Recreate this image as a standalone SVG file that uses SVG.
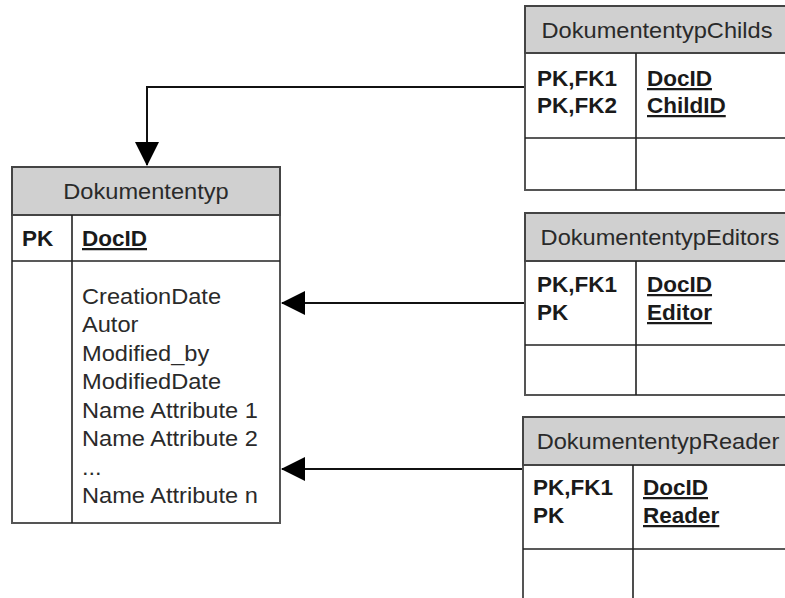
<svg xmlns="http://www.w3.org/2000/svg" width="785" height="598" viewBox="0 0 785 598">
<style>
  text { font-family: "Liberation Sans", Arial, sans-serif; fill: #1a1a1a; }
  .h { font-size: 22.5px; text-anchor: middle; fill: #2a2a2a; transform-box: fill-box; transform-origin: center; transform: scaleX(1.05); }
  .r { font-size: 22.5px; fill: #2a2a2a; transform-box: fill-box; transform-origin: left; transform: scaleX(1.05); }
  .b { font-size: 22.5px; font-weight: bold; }
  .u { font-size: 22.5px; font-weight: bold; text-decoration: underline; }
  .box { fill: #ffffff; stroke: #555555; stroke-width: 2; }
  .hdr { fill: #d0d0d0; stroke: #444444; stroke-width: 2; }
  .ln { stroke: #222222; stroke-width: 1.6; fill: none; }
  .con { stroke: #111111; stroke-width: 2; fill: none; }
</style>
<defs>
  <marker id="arr" markerUnits="userSpaceOnUse" markerWidth="24" markerHeight="24" refX="23" refY="12" orient="auto">
    <path d="M0,0 L24,12 L0,24 z" fill="#000000"/>
  </marker>
</defs>

<g id="connectors">
  <path class="con" d="M525,87 H147 V165" marker-end="url(#arr)"/>
  <path class="con" d="M525,303 H282" marker-end="url(#arr)"/>
  <path class="con" d="M523,469 H282" marker-end="url(#arr)"/>
</g>

<g id="Dokumententyp">
  <rect class="box" x="12" y="167" width="268" height="356"/>
  <rect class="hdr" x="12" y="167" width="268" height="48"/>
  <line class="ln" x1="12" y1="261" x2="280" y2="261"/>
  <line class="ln" x1="72" y1="215" x2="72" y2="523"/>
  <text class="h" x="146" y="199">Dokumententyp</text>
  <text class="b" x="22" y="246">PK</text>
  <text class="u" x="82" y="246">DocID</text>
  <text class="r" x="82" y="304">CreationDate</text>
  <text class="r" x="82" y="332.5">Autor</text>
  <text class="r" x="82" y="361">Modified_by</text>
  <text class="r" x="82" y="389.5">ModifiedDate</text>
  <text class="r" x="82" y="418">Name Attribute 1</text>
  <text class="r" x="82" y="446.5">Name Attribute 2</text>
  <text class="r" x="82" y="475">...</text>
  <text class="r" x="82" y="503.5">Name Attribute n</text>
</g>

<g id="DokumententypChilds">
  <rect class="box" x="525" y="6" width="270" height="184"/>
  <rect class="hdr" x="525" y="6" width="270" height="47"/>
  <line class="ln" x1="525" y1="138" x2="795" y2="138"/>
  <line class="ln" x1="636" y1="53" x2="636" y2="190"/>
  <text class="h" x="657" y="38">DokumententypChilds</text>
  <text class="b" x="537" y="86">PK,FK1</text>
  <text class="b" x="537" y="113">PK,FK2</text>
  <text class="u" x="647" y="86">DocID</text>
  <text class="u" x="647" y="113">ChildID</text>
</g>

<g id="DokumententypEditors">
  <rect class="box" x="525" y="213" width="270" height="182"/>
  <rect class="hdr" x="525" y="213" width="270" height="48"/>
  <line class="ln" x1="525" y1="345" x2="795" y2="345"/>
  <line class="ln" x1="636" y1="261" x2="636" y2="395"/>
  <text class="h" x="660" y="245">DokumententypEditors</text>
  <text class="b" x="537" y="292">PK,FK1</text>
  <text class="b" x="537" y="320">PK</text>
  <text class="u" x="647" y="292">DocID</text>
  <text class="u" x="647" y="320">Editor</text>
</g>

<g id="DokumententypReader">
  <rect class="box" x="523" y="417" width="272" height="200"/>
  <rect class="hdr" x="523" y="417" width="272" height="48"/>
  <line class="ln" x1="523" y1="549" x2="795" y2="549"/>
  <line class="ln" x1="633" y1="465" x2="633" y2="610"/>
  <text class="h" x="658" y="449">DokumententypReader</text>
  <text class="b" x="533" y="495">PK,FK1</text>
  <text class="b" x="533" y="523">PK</text>
  <text class="u" x="643" y="495">DocID</text>
  <text class="u" x="643" y="523">Reader</text>
</g>
</svg>
